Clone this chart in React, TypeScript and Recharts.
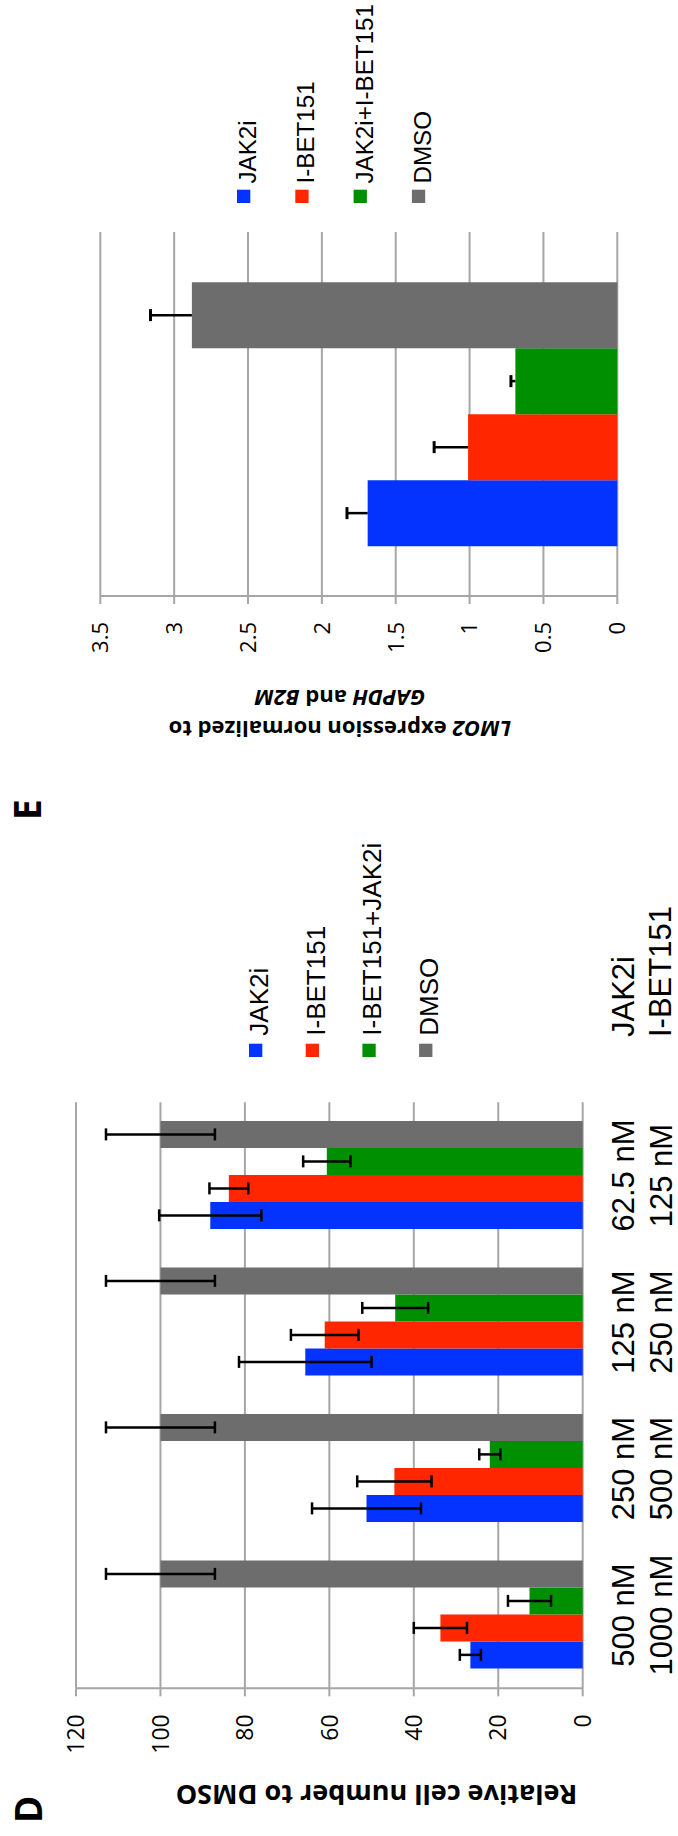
import React from 'react';
import { BarChart, Bar, XAxis, YAxis, CartesianGrid, ErrorBar, Legend } from 'recharts';

// Series shared by both panels
const seriesNamesD = ['JAK2i', 'I-BET151', 'I-BET151+JAK2i', 'DMSO'];
const seriesNamesE = ['JAK2i', 'I-BET151', 'JAK2i+I-BET151', 'DMSO'];
const seriesColors = ['#0433ff', '#ff2600', '#008f00', '#6d6d6d'];

// Panel D: dose pairs (JAK2i / I-BET151)
const jak2iDoses = ['500 nM', '250 nM', '125 nM', '62.5 nM'];
const ibetDoses = ['1000 nM', '500 nM', '250 nM', '125 nM'];

// Panel D: relative cell number (% of DMSO) and error
const jak2iCells = [26.6, 51.2, 65.7, 88.2];
const jak2iCellsErr = [2.5, 12.9, 15.7, 12.1];
const ibetCells = [33.7, 44.6, 61.1, 83.8];
const ibetCellsErr = [6.3, 8.8, 8.0, 4.6];
const comboCells = [12.6, 22.0, 44.4, 60.6];
const comboCellsErr = [5.1, 2.5, 7.8, 5.6];
const dmsoCells = [100, 100, 100, 100];
const dmsoCellsErr = [12.9, 12.9, 12.9, 12.9];
const cellTicks = [0, 20, 40, 60, 80, 100, 120];

// Panel E: LMO2 expression and error (upper only)
const lmo2Values = [1.69, 1.01, 0.69, 2.88];
const lmo2Errors = [0.14, 0.23, 0.03, 0.28];
const lmo2Ticks = [0, 0.5, 1, 1.5, 2, 2.5, 3, 3.5];

const cellValues = [jak2iCells, ibetCells, comboCells, dmsoCells];
const cellErrors = [jak2iCellsErr, ibetCellsErr, comboCellsErr, dmsoCellsErr];

const cellData = jak2iDoses.map((dose, i) => {
  const row: Record<string, any> = { jak: dose, ibet: ibetDoses[i] };
  cellValues.forEach((vals, s) => {
    row[`v${s}`] = vals[i];
    row[`e${s}`] = cellErrors[s][i];
  });
  return row;
});

const lmo2Row: Record<string, any> = { name: 'LMO2' };
lmo2Values.forEach((v, s) => {
  lmo2Row[`v${s}`] = v;
  lmo2Row[`e${s}`] = lmo2Errors[s];
});
const lmo2Data = [lmo2Row];

const sans = "'Liberation Sans', Arial, Helvetica, sans-serif";
const titleFont = "'Open Sans', 'Noto Sans', sans-serif";
const gridColor = '#a6a6a6';

function DoseTick(props: any) {
  const { x, y, payload, index } = props;
  return (
    <text
      x={x}
      y={y}
      textAnchor="middle"
      fontSize={31}
      fontFamily={sans}
      style={{ fontFamily: sans }}
      fill="#000"
    >
      <tspan x={x} dy={51.3}>{payload.value}</tspan>
      <tspan x={x} dy={37.5}>{ibetDoses[index]}</tspan>
    </text>
  );
}

// One-sided whisker drawn on top of a stacked segment
function Whisker(props: any) {
  const { x, y, width, height } = props;
  if (width == null || height == null) return null;
  const cx = x + width / 2;
  return (
    <g>
      <line x1={cx} x2={cx} y1={y + height} y2={y} stroke="#000" strokeWidth={2.5} />
      <line x1={cx - 6} x2={cx + 6} y1={y} y2={y} stroke="#000" strokeWidth={3} />
    </g>
  );
}

function LegendList({
  names,
  step,
  gap,
  fontSize,
}: {
  names: string[];
  step: number;
  gap: number;
  fontSize: number;
}) {
  return (
    <svg width={320} height={step * 4} style={{ overflow: 'visible', display: 'block' }}>
      {names.map((n, i) => (
        <g key={n}>
          <rect x={0} y={i * step} width={13.3} height={13.3} fill={seriesColors[i]} />
          <text
            x={13.3 + gap}
            y={i * step + 19}
            fontSize={fontSize}
            fontFamily={sans}
            style={{ fontFamily: sans }}
            fill="#000"
          >
            {n}
          </text>
        </g>
      ))}
    </svg>
  );
}

export default function App() {
  return (
    <div
      style={{
        position: 'absolute',
        left: 0,
        top: 0,
        width: 678,
        height: 1836,
        overflow: 'hidden',
        background: '#fff',
      }}
    >
      <div
        style={{
          position: 'absolute',
          left: 0,
          top: 0,
          width: 1836,
          height: 678,
          transformOrigin: '0 0',
          transform: 'translateY(1836px) rotate(-90deg)',
          background: '#fff',
        }}
      >
        {/* Panel D */}
        <div style={{ position: 'absolute', left: 0, top: 0 }}>
          <BarChart
            width={1060}
            height={678}
            data={cellData}
            margin={{ top: 76, right: 326.3, bottom: 0, left: 0 }}
            barCategoryGap="13.6%"
            barGap={0}
          >
            <CartesianGrid vertical={false} stroke={gridColor} strokeWidth={2} />
            <XAxis
              dataKey="jak"
              height={95.3}
              tickLine={false}
              axisLine={false}
              tickSize={0}
              tickMargin={0}
              interval={0}
              tick={<DoseTick />}
            />
            <YAxis
              width={147.7}
              domain={[0, 120]}
              ticks={cellTicks}
              interval={0}
              axisLine={{ stroke: gridColor, strokeWidth: 2 }}
              tickLine={{ stroke: gridColor, strokeWidth: 2 }}
              tickSize={8}
              tickMargin={18}
              tick={{ fontSize: 23, fill: '#000', fontFamily: titleFont }}
            />
            {seriesNamesD.map((name, s) => (
              <Bar key={name} dataKey={`v${s}`} name={name} fill={seriesColors[s]} isAnimationActive={false}>
                <ErrorBar dataKey={`e${s}`} width={6} stroke="#000" strokeWidth={2.5} direction="y" />
              </Bar>
            ))}
            <Legend
              layout="vertical"
              align="center"
              verticalAlign="middle"
              wrapperStyle={{ left: 778.7, top: 249.3, width: 280 }}
              content={() => <LegendList names={seriesNamesD} step={56.7} gap={8} fontSize={26} />}
            />
          </BarChart>
        </div>

        {/* Panel E */}
        <div style={{ position: 'absolute', left: 1060, top: 0 }}>
          <BarChart
            width={776}
            height={678}
            data={lmo2Data}
            margin={{ top: 100.3, right: 232, bottom: 60.7, left: 0 }}
            barCategoryGap="13.7%"
            barGap={0}
          >
            <CartesianGrid vertical={false} stroke={gridColor} strokeWidth={2} />
            <XAxis dataKey="name" hide />
            <YAxis
              width={180}
              domain={[0, 3.5]}
              ticks={lmo2Ticks}
              interval={0}
              axisLine={{ stroke: gridColor, strokeWidth: 2 }}
              tickLine={{ stroke: gridColor, strokeWidth: 2 }}
              tickSize={8}
              tickMargin={18}
              tick={{ fontSize: 22, fill: '#000', fontFamily: titleFont }}
            />
            {seriesNamesE.flatMap((name, s) => [
              <Bar
                key={`${name}-v`}
                dataKey={`v${s}`}
                name={name}
                stackId={`s${s}`}
                fill={seriesColors[s]}
                isAnimationActive={false}
              />,
              <Bar
                key={`${name}-e`}
                dataKey={`e${s}`}
                stackId={`s${s}`}
                fill="none"
                shape={<Whisker />}
                isAnimationActive={false}
              />,
            ])}
            <Legend
              layout="vertical"
              align="center"
              verticalAlign="middle"
              wrapperStyle={{ left: 572.7, top: 237.4, width: 300 }}
              content={() => <LegendList names={seriesNamesE} step={58.3} gap={6.2} fontSize={24.2} />}
            />
          </BarChart>
        </div>

        {/* Titles, panel letters and dose row labels */}
        <svg
          width={1836}
          height={678}
          style={{ position: 'absolute', left: 0, top: 0, pointerEvents: 'none', overflow: 'visible' }}
        >
          <text x={13} y={41.7} fontSize={37} fontWeight={700} fontFamily={titleFont} fill="#000">
            D
          </text>
          <text x={1016} y={40.7} fontSize={37} fontWeight={700} fontFamily={titleFont} fill="#000">
            E
          </text>
          <text
            x={51}
            y={376.5}
            textAnchor="middle"
            transform="rotate(-90 51 376.5)"
            fontSize={27}
            fontWeight={700}
            fontFamily={titleFont}
            fill="#000"
          >
            Relative cell number to DMSO
          </text>
          <text
            x={1115.3}
            y={340}
            textAnchor="middle"
            transform="rotate(-90 1115.3 340)"
            fontSize={22}
            fontWeight={700}
            fontFamily={titleFont}
            fill="#000"
          >
            <tspan x={1115.3} y={340}>
              <tspan fontStyle="italic">LMO2</tspan> expression normalized to
            </tspan>
            <tspan x={1115.3} dy={30.7}>
              <tspan fontStyle="italic">GAPDH</tspan> and <tspan fontStyle="italic">B2M</tspan>
            </tspan>
          </text>
          <text x={799} y={634} fontSize={31} fontFamily={sans} style={{ fontFamily: sans }} fill="#000">
            JAK2i
          </text>
          <text x={799} y={671} fontSize={31} fontFamily={sans} style={{ fontFamily: sans }} fill="#000">
            I-BET151
          </text>
        </svg>
      </div>
    </div>
  );
}
